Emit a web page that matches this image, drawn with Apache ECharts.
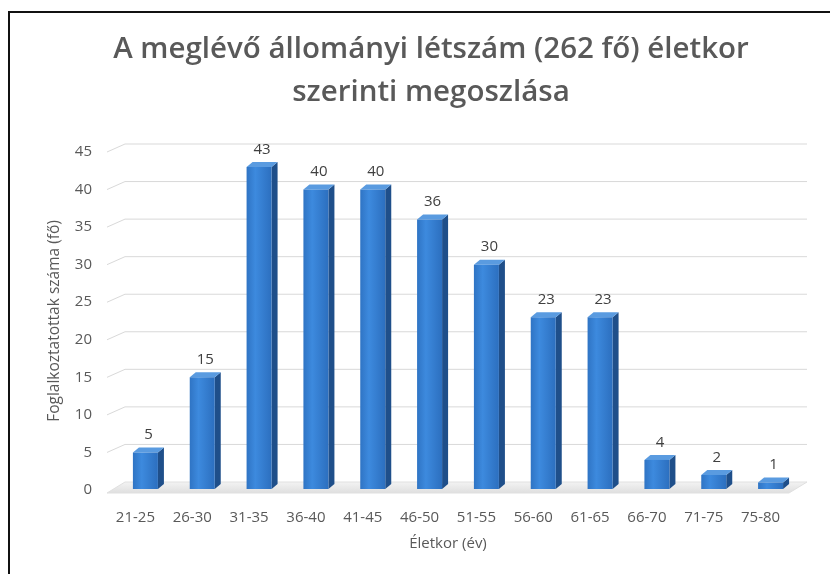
<!DOCTYPE html>
<html>
<head>
<meta charset="utf-8">
<script src="https://cdn.jsdelivr.net/npm/echarts@6/dist/echarts.min.js"></script>
<style>
  html, body { margin: 0; padding: 0; background: #fff; }
  #main { width: 830px; height: 574px; }
</style>
</head>
<body>
<div id="main"></div>
<script>
var ageGroups = ['21-25', '26-30', '31-35', '36-40', '41-45', '46-50', '51-55', '56-60', '61-65', '66-70', '71-75', '75-80'];
var headcount = [5, 15, 43, 40, 40, 36, 30, 23, 23, 4, 2, 1];
var yTicks = [0, 5, 10, 15, 20, 25, 30, 35, 40, 45];

var myChart = echarts.init(document.getElementById('main'));

// depth of the fake 3d wall / floor
var depthX = 18, depthY = 8;

option = {
    backgroundColor: '#fff',
    textStyle: { fontFamily: 'Open Sans' },
    title: {
        text: 'A meglévő állományi létszám (262 fő) életkor\nszerinti megoszlása',
        left: 426,
        top: 23,
        textAlign: 'center',
        textStyle: {
            fontFamily: 'Open Sans',
            fontSize: 29.5,
            fontWeight: 600,
            lineHeight: 43,
            color: '#595959'
        }
    },
    graphic: [{
        type: 'rect',
        shape: { x: 9, y: 12, width: 900, height: 700 },
        style: { fill: 'none', stroke: '#111', lineWidth: 2 },
        silent: true
    }],
    grid: { left: 107, right: 41, top: 152, bottom: 84 },
    xAxis: {
        type: 'category',
        data: ageGroups,
        name: 'Életkor (év)',
        nameLocation: 'middle',
        nameGap: 46,
        nameTextStyle: { fontSize: 15, color: '#595959' },
        axisLine: { show: false },
        axisTick: { show: false },
        axisLabel: { margin: 20, fontSize: 15, color: '#595959' }
    },
    yAxis: {
        type: 'value',
        min: 0,
        max: 45,
        interval: 5,
        name: 'Foglalkoztatottak száma (fő)',
        nameLocation: 'middle',
        nameGap: 44,
        nameTextStyle: { fontSize: 15.5, color: '#595959' },
        axisLine: { show: false },
        axisTick: { show: false },
        axisLabel: { margin: 15, fontSize: 15, color: '#595959', padding: [4, 0, 0, 0] },
        splitLine: { show: false }
    },
    series: [{
        // back wall gridlines and floor
        type: 'custom',
        silent: true,
        z: 1,
        data: yTicks.map(function (v) { return [0, v]; }),
        encode: { x: 0, y: 1 },
        renderItem: function (params, api) {
            var cs = params.coordSys;
            var x0 = cs.x, x1 = cs.x + cs.width;
            var py = api.coord([0, api.value(1)])[1];
            var children = [];
            if (api.value(1) === 0) {
                children.push({
                    type: 'polygon',
                    shape: { points: [[x0, py + 3], [x0 + depthX, py - depthY], [x1 + depthX, py - depthY], [x1, py + 3]] },
                    style: {
                        fill: new echarts.graphic.LinearGradient(0, 0, 0, 1, [
                            { offset: 0, color: '#f4f4f4' },
                            { offset: 1, color: '#dedede' }
                        ]),
                        stroke: '#e0e0e0',
                        lineWidth: 1
                    }
                });
            } else {
                children.push({
                    type: 'polyline',
                    shape: { points: [[x0, py], [x0 + depthX, py - depthY], [x1 + depthX, py - depthY]] },
                    style: { stroke: '#d9d9d9', lineWidth: 1, fill: null }
                });
            }
            return { type: 'group', children: children };
        }
    }, {
        type: 'custom',
        z: 2,
        data: headcount.map(function (v, i) { return [i, v]; }),
        encode: { x: 0, y: 1 },
        renderItem: function (params, api) {
            var top = api.coord([api.value(0), api.value(1)]);
            var base = api.coord([api.value(0), 0]);
            var w = api.size([1, 0])[0] * 0.44;
            var dx = 6, dy = 5, shift = 10;
            var l = top[0] - w / 2 + shift;
            var t = top[1];
            var b = base[1] - 1;
            return {
                type: 'group',
                children: [{
                    type: 'polygon',
                    shape: { points: [[l + w, t], [l + w + dx, t - dy], [l + w + dx, b - dy], [l + w, b]] },
                    style: { fill: '#1f4f8a' }
                }, {
                    type: 'polygon',
                    shape: { points: [[l, t], [l + dx, t - dy], [l + w + dx, t - dy], [l + w, t]] },
                    style: { fill: '#5a9be0' }
                }, {
                    type: 'rect',
                    shape: { x: l, y: t, width: w, height: b - t },
                    style: {
                        fill: new echarts.graphic.LinearGradient(0, 0, 1, 0, [
                            { offset: 0, color: '#2f74c4' },
                            { offset: 0.35, color: '#3d8ade' },
                            { offset: 1, color: '#2c6fbf' }
                        ])
                    }
                }, {
                    type: 'text',
                    style: {
                        text: String(api.value(1)),
                        x: l + (w + dx) / 2,
                        y: t - dy - 5,
                        textAlign: 'center',
                        textVerticalAlign: 'bottom',
                        fontSize: 15,
                        fontFamily: 'Open Sans',
                        fill: '#404040'
                    }
                }]
            };
        }
    }]
};
myChart.setOption(option);
</script>
</body>
</html>
